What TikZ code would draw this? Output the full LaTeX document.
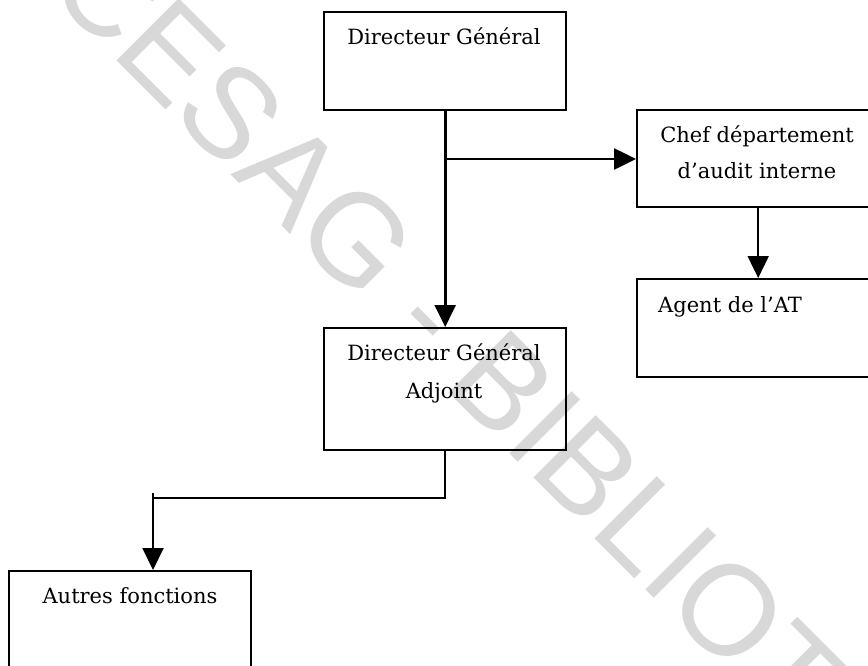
\documentclass[tikz,border=0pt]{standalone}
\usepackage{fontspec}
\setmainfont{DejaVu Serif}
\newfontfamily\stampfont{Liberation Sans}
\usetikzlibrary{arrows.meta}
\definecolor{markgray}{RGB}{216,216,216}
\tikzset{
  box/.style={draw=black, line width=2.4pt, minimum width=242pt, inner sep=0pt, anchor=north west},
  txt/.style={font=\fontsize{21}{36}\selectfont, inner sep=0pt, text=black},
  link/.style={draw=black, line width=2.6pt},
  thinlink/.style={draw=black, line width=2pt},
  tip/.style={-{Triangle[length=22pt,width=21pt]}},
  stamptext/.style={font=\stampfont\fontsize{128}{128}\selectfont, text=markgray, inner sep=0pt}
}
\begin{document}
\begin{tikzpicture}[x=1pt,y=-1pt]
\useasboundingbox (0,0) rectangle (868,665);
\clip (0,0) rectangle (868,665);
\fill[white] (0,0) rectangle (868,665);

% background stamp
\node[stamptext, anchor=base west, rotate=-45] (stamp) at (44,-12) {CESAG - BIBLIOTHEQUE};

% boxes
\node[box, minimum height=98pt] (dg) at (323,11) {};
\node[box, minimum height=97pt] (cdai) at (636,109) {};
\node[box, minimum height=98pt] (agent) at (636,278) {};
\node[box, minimum height=122pt] (dga) at (323,327) {};
\node[box, minimum height=130pt] (autres) at (8,570) {};

% box texts
\node[txt, anchor=base] (dgt) at (444,44) {Directeur Général};
\node[txt, anchor=base] (cdait1) at (757,142) {Chef\ département};
\node[txt, anchor=base] (cdait2) at (757,178) {d’audit interne};
\node[txt, anchor=base west] (agentt) at (658,312) {Agent de l’AT};
\node[txt, anchor=base] (dgat1) at (444,360) {Directeur Général};
\node[txt, anchor=base] (dgat2) at (444,398) {Adjoint};
\node[txt, anchor=base] (autrest) at (130,603) {Autres fonctions};

% connectors
\coordinate (j1) at (444,159);
\coordinate (j2) at (153,498);
\coordinate (j2t) at (153,493);
\draw[link, tip] (dg.south) -- (dga.north);
\draw[link, tip] (j1) -- (j1 -| cdai.west);
\draw[thinlink, tip] (cdai.south) -- (agent.north);
\draw[thinlink] (dga.south) |- (j2);
\draw[thinlink, tip] (j2t) -- (j2t |- autres.north);
\end{tikzpicture}
\end{document}
